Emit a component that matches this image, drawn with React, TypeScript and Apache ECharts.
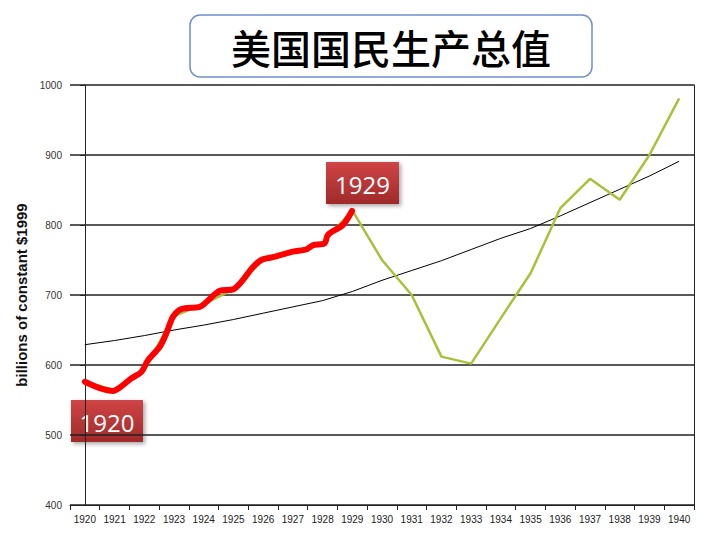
import React, { useEffect, useRef } from "react";
import * as echarts from "echarts";

const years = ["1920","1921","1922","1923","1924","1925","1926","1927","1928","1929","1930","1931","1932","1933","1934","1935","1936","1937","1938","1939","1940"];
const gnp = [576, 564, 593, 670, 687, 708, 750, 762, 774, 821, 750, 700, 612, 602, 667, 731, 824, 866, 836, 900, 981];
const trend = [629, 635, 642, 650, 657, 665, 674, 683, 692, 705, 721, 735, 749, 765, 781, 795, 813, 832, 851, 870, 891];
// hand-drawn red highlight 1920-1929 (years after 1920, value)
const boomT = [0, 0.5, 0.95, 1.18, 1.57, 1.9, 2.13, 2.52, 2.74, 2.97, 3.25, 3.87, 4.09, 4.54, 4.99, 5.27, 5.66, 5.94, 6.33, 7.0, 7.45, 7.67, 8.07, 8.18, 8.68, 8.99];
const boomV = [576, 567, 563, 568, 581, 590, 607, 626, 645, 669, 680, 683, 690, 706, 708, 719, 740, 750, 754, 762, 765, 771, 774, 786, 800, 820];
const yTicks = { min: 400, max: 1000, step: 100 };
const title = "美国国民生产总值";
const yName = "billions of constant $1999";

function tagBox(x: number, y: number, w: number, h: number, label: string) {
  return {
    type: "group",
    x,
    y,
    z: 100,
    children: [
      {
        type: "rect",
        shape: { x: 0, y: 0, width: w, height: h },
        style: {
          fill: new echarts.graphic.LinearGradient(0, 0, 0, 1, [
            { offset: 0, color: "#cf4545" },
            { offset: 1, color: "#a02a2a" },
          ]),
          shadowBlur: 4,
          shadowOffsetX: 2,
          shadowOffsetY: 2,
          shadowColor: "rgba(0,0,0,0.35)",
        },
      },
      {
        type: "text",
        x: w / 2,
        y: h / 2 + 1,
        style: {
          text: label,
          fill: "#ffffff",
          font: "24px 'Open Sans', 'Noto Sans', sans-serif",
          align: "center",
          verticalAlign: "middle",
        },
      },
    ],
  };
}

export default function App() {
  const ref = useRef<HTMLDivElement>(null);
  useEffect(() => {
    if (!ref.current) return;
    const chart = echarts.init(ref.current, null, { renderer: "svg" });
    const boom = boomT.map((t, i) => [t, boomV[i]]);
    chart.setOption({
      animation: false,
      backgroundColor: "#ffffff",
      grid: { left: 70, right: 26, top: 85, bottom: 35 },
      xAxis: [
        {
          type: "category",
          data: years,
          boundaryGap: true,
          axisLine: { show: true, lineStyle: { color: "#222", width: 1 } },
          axisTick: { show: true, interval: 0, length: 5, lineStyle: { color: "#222" } },
          axisLabel: { interval: 0, color: "#222", fontSize: 10, fontFamily: "Liberation Sans, Arial, sans-serif", margin: 9 },
          splitLine: { show: false },
        },
        {
          type: "value",
          min: -0.5,
          max: 20.5,
          show: false,
        },
      ],
      yAxis: [
        {
          type: "value",
          min: yTicks.min,
          max: yTicks.max,
          interval: yTicks.step,
          name: yName,
          nameLocation: "middle",
          nameGap: 37,
          nameTextStyle: { fontSize: 15, fontWeight: "bold", color: "#111", fontFamily: "Liberation Sans, Arial, sans-serif" },
          axisLine: { show: true, lineStyle: { color: "#222", width: 1 } },
          axisTick: { show: true, length: 5, lineStyle: { color: "#222" } },
          axisLabel: { color: "#333", fontSize: 10, fontFamily: "Liberation Sans, Arial, sans-serif", margin: 8, formatter: (v: number) => String(v) },
          splitLine: { show: true, lineStyle: { color: "#222", width: 1.5 } },
        },
        {
          type: "value",
          position: "right",
          min: yTicks.min,
          max: yTicks.max,
          interval: yTicks.step,
          axisLine: { show: true, lineStyle: { color: "#222", width: 1 } },
          axisTick: { show: false },
          axisLabel: { show: false },
          splitLine: { show: false },
        },
      ],
      series: [
        {
          name: "trend",
          type: "line",
          data: trend,
          symbol: "none",
          lineStyle: { color: "#000", width: 1 },
          z: 2,
        },
        {
          name: "GNP",
          type: "line",
          data: gnp,
          symbol: "none",
          lineStyle: { color: "#a9c13a", width: 2.5 },
          z: 3,
        },
        {
          name: "1920s",
          type: "line",
          xAxisIndex: 1,
          data: boom,
          symbol: "none",
          smooth: 0.3,
          lineStyle: { color: "#ff0000", width: 6, cap: "round", join: "round" },
          z: 4,
        },
      ],
      graphic: [
        {
          type: "rect",
          shape: { x: 190, y: 15, width: 402, height: 62, r: 10 },
          style: { fill: "#ffffff", stroke: "#6f8fc8", lineWidth: 1.5 },
          z: 100,
        },
        {
          type: "text",
          x: 391,
          y: 47,
          z: 101,
          style: {
            text: title,
            fill: "#000",
            font: "500 40px 'Noto Sans CJK SC', sans-serif",
            align: "center",
            verticalAlign: "middle",
          },
        },
        tagBox(71, 400, 72, 42, "1920"),
        tagBox(326, 162, 73, 42, "1929"),
      ],
    });
    return () => chart.dispose();
  }, []);
  return (
    <div
      ref={ref}
      style={{ position: "fixed", left: 0, top: 0, width: 720, height: 540 }}
    />
  );
}
